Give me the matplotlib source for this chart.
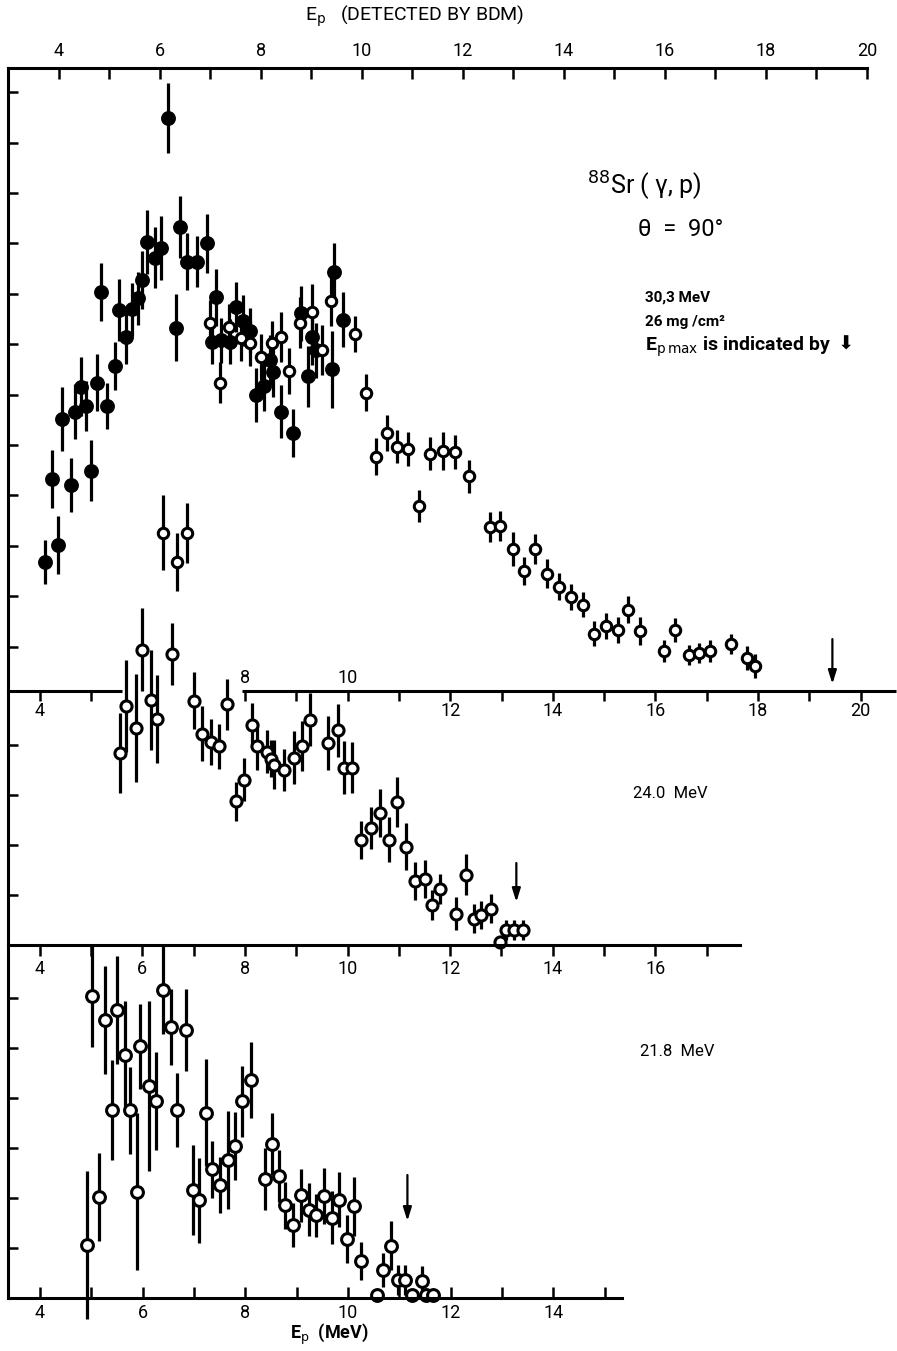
import matplotlib.pyplot as plt

plt.rcParams['font.family'] = ['Roboto', 'DejaVu Sans']

W, H = 897, 1351

# proton energy window of each panel (MeV)
E_LEFT = 3.38
E_RIGHT = [20.69, 17.65, 15.34]

# ---- 30.3 MeV, filled circles
e30_f = [4.11, 4.23, 4.36, 4.44, 4.60, 4.68, 4.81, 4.90, 4.99, 5.12, 5.20, 5.31,
         5.46, 5.54, 5.68, 5.80, 5.92, 5.99, 6.09, 6.24, 6.36, 6.49, 6.65, 6.73,
         6.87, 7.07, 7.25, 7.44, 7.35, 7.54, 7.70, 7.83, 7.96, 8.09, 8.22, 8.37,
         8.48, 8.55, 8.71, 8.94, 9.09, 9.23, 9.31, 9.38, 9.69, 9.73, 9.91]
y30_f = [2.68, 4.33, 3.02, 5.52, 4.21, 5.66, 6.16, 5.77, 4.49, 6.24, 8.04, 5.78,
         6.57, 7.68, 7.14, 7.69, 7.91, 8.27, 9.03, 8.72, 8.91, 11.49, 7.33, 9.33,
         8.64, 8.64, 9.00, 7.93, 7.05, 7.08, 7.05, 7.74, 7.47, 7.27, 5.99, 6.17,
         6.69, 6.45, 5.66, 5.24, 7.61, 6.36, 7.14, 6.88, 6.50, 8.43, 7.49]
s30_f = [0.43, 0.58, 0.58, 0.64, 0.54, 0.55, 0.58, 0.50, 0.60, 0.56, 0.58, 0.46,
         0.47, 0.62, 0.53, 0.52, 0.52, 0.57, 0.63, 0.61, 0.64, 0.69, 0.66, 0.61,
         0.56, 0.51, 0.58, 0.56, 0.45, 0.45, 0.45, 0.50, 0.50, 0.45, 0.53, 0.50,
         0.50, 0.50, 0.53, 0.47, 0.55, 0.60, 0.55, 0.55, 0.77, 0.57, 0.55]

# ---- 30.3 MeV, open circles
e30_o = [6.40, 6.68, 6.86, 7.31, 7.51, 7.69, 7.93, 8.09, 8.32, 8.52, 8.71, 8.85,
         9.07, 9.30, 9.51, 9.67, 10.15, 10.35, 10.56, 10.76, 10.97, 11.18, 11.39,
         11.60, 11.85, 12.09, 12.36, 12.77, 12.98, 13.23, 13.44, 13.66, 13.88,
         14.12, 14.35, 14.59, 14.81, 15.03, 15.27, 15.47, 15.70, 16.16, 16.38,
         16.65, 16.85, 17.07, 17.48, 17.79, 17.94]
y30_o = [3.26, 2.68, 3.25, 7.43, 6.24, 7.35, 7.12, 7.02, 6.75, 7.02, 7.14, 6.47,
         7.43, 7.64, 6.88, 7.86, 7.20, 6.04, 4.77, 5.24, 4.97, 4.92, 3.79,
         4.83, 4.88, 4.86, 4.38, 3.38, 3.39, 2.94, 2.50, 2.94, 2.45,
         2.19, 1.99, 1.83, 1.26, 1.41, 1.33, 1.73, 1.31, 0.91, 1.33,
         0.83, 0.87, 0.92, 1.05, 0.77, 0.62]
s30_o = [0.74, 0.58, 0.59, 0.45, 0.40, 0.45, 0.45, 0.45, 0.45, 0.45, 0.50, 0.45,
         0.50, 0.55, 0.50, 0.50, 0.36, 0.36, 0.36, 0.36, 0.33, 0.33, 0.32,
         0.33, 0.38, 0.33, 0.33, 0.30, 0.30, 0.34, 0.28, 0.30, 0.28,
         0.27, 0.26, 0.25, 0.25, 0.25, 0.25, 0.27, 0.27, 0.22, 0.24,
         0.20, 0.20, 0.22, 0.20, 0.24, 0.24]

# ---- 24.0 MeV
e24 = [5.57, 5.69, 5.87, 6.00, 6.16, 6.29, 6.58, 7.00, 7.16, 7.33, 7.49, 7.64,
       7.83, 7.98, 8.13, 8.24, 8.42, 8.50, 8.57, 8.76, 8.95, 9.11, 9.26, 9.62,
       9.81, 9.93, 10.09, 10.27, 10.45, 10.63, 10.81, 10.97, 11.13, 11.31,
       11.50, 11.64, 11.80, 12.12, 12.30, 12.46, 12.61, 12.79, 12.97, 13.08,
       13.25, 13.42]
y24 = [3.85, 4.78, 4.35, 5.91, 4.90, 4.53, 5.83, 4.89, 4.23, 4.07, 3.98, 4.82,
       2.88, 3.31, 4.41, 3.99, 3.87, 3.73, 3.61, 3.50, 3.75, 3.98, 4.51, 4.05,
       4.30, 3.55, 3.55, 2.11, 2.35, 2.65, 2.11, 2.86, 1.97, 1.28,
       1.32, 0.80, 1.13, 0.63, 1.41, 0.53, 0.61, 0.73, 0.07, 0.31,
       0.31, 0.31]
s24 = [0.80, 0.92, 1.08, 0.83, 1.00, 0.88, 0.62, 0.57, 0.55, 0.46, 0.45, 0.51,
       0.39, 0.43, 0.44, 0.48, 0.43, 0.37, 0.49, 0.42, 0.53, 0.50, 0.53, 0.54,
       0.53, 0.53, 0.51, 0.38, 0.42, 0.48, 0.45, 0.50, 0.47, 0.38,
       0.38, 0.30, 0.30, 0.33, 0.41, 0.29, 0.28, 0.29, 0.0, 0.20,
       0.20, 0.20]

# ---- 21.8 MeV
e21 = [4.91, 5.02, 5.15, 5.27, 5.41, 5.51, 5.66, 5.75, 5.90, 5.96, 6.12, 6.27,
       6.39, 6.55, 6.68, 6.85, 6.98, 7.11, 7.24, 7.36, 7.50, 7.66, 7.81, 7.94,
       8.11, 8.39, 8.53, 8.65, 8.78, 8.94, 9.08, 9.24, 9.37, 9.54, 9.69, 9.83,
       9.98, 10.12, 10.25, 10.56, 10.69, 10.84, 10.97, 11.12, 11.25, 11.44,
       11.52, 11.65]
y21 = [1.07, 6.05, 2.03, 5.56, 3.76, 5.76, 4.86, 3.76, 2.13, 5.04, 4.24, 3.94,
       6.17, 5.43, 3.76, 5.36, 2.16, 1.96, 3.71, 2.58, 2.27, 2.76, 3.05, 3.94,
       4.37, 2.39, 3.09, 2.44, 1.86, 1.46, 2.06, 1.77, 1.66, 2.05, 1.61, 1.97,
       1.19, 1.84, 0.75, 0.07, 0.56, 1.05, 0.36, 0.37, 0.06, 0.35,
       0.07, 0.07]
s21 = [1.48, 1.02, 0.88, 1.08, 1.00, 1.08, 1.09, 0.87, 1.57, 0.85, 1.70, 0.98,
       0.88, 0.76, 0.74, 0.82, 0.90, 0.85, 1.07, 0.57, 0.56, 0.98, 0.68, 0.71,
       0.76, 0.62, 0.62, 0.52, 0.47, 0.44, 0.53, 0.53, 0.43, 0.56, 0.53, 0.55,
       0.48, 0.59, 0.38, 0.0, 0.34, 0.49, 0.30, 0.30, 0.0, 0.29,
       0.0, 0.0]

# maximum proton energies (arrows): energy, arrow tail, arrow head
ep_max = [19.45, 13.29, 11.16]
arrow_tail = [1.15, 1.64, 2.46]
arrow_head = [0.26, 0.86, 1.54]

YLIMS = [(0.12, 12.48), (0.0, 5.08), (0.0, 7.06)]
YTICKS = [range(1, 13), range(1, 5), range(1, 7)]


def to_bdm(e):
    return 1.01584 * (e - 4) + 3.6238


def from_bdm(e):
    return (e - 3.6238) / 1.01584 + 4


def px_axes(fig, left, top, right, bottom):
    return fig.add_axes([left / W, 1 - bottom / H, (right - left) / W, (bottom - top) / H])


def points(ax, e, y, s, filled, ms):
    c = ax.errorbar(e, y, yerr=s, fmt='o', ms=ms, mfc='black' if filled else 'white',
                    mec='black', mew=2.2, ecolor='black', elinewidth=2.3, capsize=0)
    for a in c.get_children():
        a.set_clip_on(False)


fig = plt.figure(figsize=(W / 100, H / 100), dpi=100)
ax1 = px_axes(fig, 8, 68, 896, 691)
ax2 = px_axes(fig, 8, 691, 740, 945)
ax3 = px_axes(fig, 8, 945, 622, 1298)
axes = [ax1, ax2, ax3]

for ax, xr, yl, yt in zip(axes, E_RIGHT, YLIMS, YTICKS):
    ax.set_xlim(E_LEFT, xr)
    ax.set_ylim(*yl)
    ax.set_yticks(list(yt))
    ax.tick_params(axis='y', direction='in', length=7, width=1.8, labelleft=False)
    ax.spines['left'].set_linewidth(2.2)
    for side in ('top', 'right'):
        ax.spines[side].set_visible(False)
    ax.patch.set_alpha(0)

points(ax1, e30_f, y30_f, s30_f, True, 8.5)
points(ax1, e30_o, y30_o, s30_o, False, 7.5)
points(ax2, e24, y24, s24, False, 8)
points(ax3, e21, y21, s21, False, 8.5)

for ax, e, t, h in zip(axes, ep_max, arrow_tail, arrow_head):
    ax.annotate('', xy=(e, h), xytext=(e, t),
                arrowprops=dict(arrowstyle='-|>,head_length=0.8,head_width=0.25',
                                color='black', lw=1.6, shrinkA=0, shrinkB=0))

# upper panel: broken baseline, ticks pointing down
ax1.spines['bottom'].set_visible(False)
y0 = YLIMS[0][0]
ax1.hlines([y0, y0], [E_LEFT, 7.95], [5.6, E_RIGHT[0]], color='black', lw=2.2,
           clip_on=False)
t1 = [4, 5] + list(range(8, 21))
ax1.set_xticks(t1)
ax1.set_xticklabels([str(t) if t == 4 or (t >= 12 and t % 2 == 0) else '' for t in t1])
ax1.tick_params(axis='x', direction='out', length=7, width=1.8, pad=1, labelsize=13)
for t in (8, 10):
    ax1.annotate(str(t), xy=(t, y0), xytext=(0, 3), textcoords='offset points',
                 ha='center', va='bottom', fontsize=13)

# energy scale of the detector on top
sec = ax1.secondary_xaxis('top', functions=(to_bdm, from_bdm))
sec.set_xticks(list(range(4, 21)))
sec.set_xticklabels([str(t) if t % 2 == 0 else '' for t in range(4, 21)])
sec.tick_params(direction='in', length=8, width=1.8, pad=6, labelsize=13)
sec.spines['top'].set_linewidth(2.2)
sec.spines['top'].set_bounds(to_bdm(E_LEFT), 20)

t2 = list(range(4, 18))
ax2.set_xticks(t2)
ax2.set_xticklabels([str(t) if t % 2 == 0 else '' for t in t2])
ax2.tick_params(axis='x', direction='out', length=8, width=1.8, pad=3, labelsize=13)
ax2.spines['bottom'].set_linewidth(2.2)

t3 = list(range(4, 16))
ax3.set_xticks(t3)
ax3.set_xticklabels([str(t) if t % 2 == 0 else '' for t in t3])
ax3.tick_params(axis='x', direction='in', length=8, width=1.8, pad=4, labelsize=13)
ax3.spines['bottom'].set_linewidth(2.2)


def ftext(x, y, s, **kw):
    fig.text(x / W, 1 - y / H, s, va='center', ha='left', **kw)


ftext(305, 16, r'E$_{\rm p}$   (DETECTED BY BDM)', fontsize=14)
ftext(587, 186, r'$^{88}$Sr ( γ, p)', fontsize=18)
ftext(638, 229, 'θ  =  90°', fontsize=17)
ftext(645, 298, '30,3 MeV', fontsize=11, fontweight='bold')
ftext(645, 322, '26 mg /cm²', fontsize=11, fontweight='bold')
ftext(645, 347, r'E$_{\rm p\,max}$ is indicated by', fontsize=14, fontweight='bold')
ftext(838, 344, '⬇', fontsize=14, family='DejaVu Sans')
ftext(633, 793, '24.0  MeV', fontsize=12)
ftext(640, 1052, '21.8  MeV', fontsize=12)
ftext(290, 1334, r'E$_{\rm p}$  (MeV)', fontsize=13, fontweight='bold')

fig.savefig('out.png', dpi=100)
